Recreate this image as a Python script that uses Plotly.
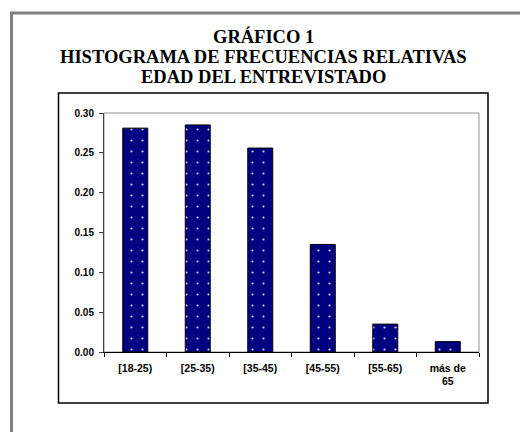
import plotly.graph_objects as go

categories = ["[18-25)", "[25-35)", "[35-45)", "[45-55)", "[55-65)", "más de<br>65"]
values = [0.281, 0.285, 0.256, 0.135, 0.035, 0.013]
y_ticks = [0.00, 0.05, 0.10, 0.15, 0.20, 0.25, 0.30]
title_lines = ["GRÁFICO 1", "HISTOGRAMA DE FRECUENCIAS RELATIVAS", "EDAD DEL ENTREVISTADO"]

OFF = 8  # page body margin
W, H = 528 - 2 * OFF, 440 - 2 * OFF
# plot area in screen pixels
SL, SR, ST, SB = 104, 479, 113, 352
L, R, T, B = SL - OFF, SR - OFF, ST - OFF, SB - OFF


def px_x(p):
    return (p - OFF - L) / (R - L)


def px_y(p):
    return (B - (p - OFF)) / (B - T)


fig = go.Figure()
fig.add_trace(go.Bar(
    x=categories,
    y=values,
    marker=dict(
        color="#000080",
        line=dict(color="black", width=1),
        pattern=dict(shape=".", fgcolor="#d8d8ff", bgcolor="#000080",
                     size=11, solidity=0.03, fillmode="replace"),
    ),
))

fig.update_layout(
    width=W, height=H,
    margin=dict(l=L, r=W - R, t=T, b=H - B, pad=0),
    paper_bgcolor="white",
    plot_bgcolor="white",
    bargap=0.6,
    showlegend=False,
    font=dict(family="Liberation Sans, Arial, sans-serif", color="black"),
)

title_y = [36, 56.5, 77]
for line, sy in zip(title_lines, title_y):
    fig.add_annotation(
        text=line, showarrow=False,
        xref="paper", yref="paper", x=px_x(263), y=px_y(sy),
        xanchor="center", yanchor="middle",
        font=dict(family="Liberation Serif, Times New Roman, serif", size=18.5,
                  color="black", weight="bold"),
    )

fig.update_yaxes(
    range=[0, 0.30],
    tickvals=y_ticks,
    tickformat=".2f",
    showgrid=False,
    zeroline=False,
    showline=True, linecolor="#404040", linewidth=1,
    ticks="outside", ticklen=4, tickcolor="#404040",
    tickfont=dict(size=10, weight="bold", family="Liberation Sans, Arial, sans-serif"),
    ticklabelstandoff=3,
)
fig.update_xaxes(
    showgrid=False,
    zeroline=False,
    showline=True, linecolor="black", linewidth=1,
    ticks="outside", ticklen=4, tickcolor="black",
    tickson="boundaries",
    tickfont=dict(size=10.5, weight="bold", family="Liberation Sans, Arial, sans-serif"),
    ticklabelstandoff=6,
)

# plot-area border (gray)
fig.add_shape(type="rect", xref="paper", yref="paper", x0=0, x1=1, y0=0, y1=1,
              line=dict(color="#909090", width=1), layer="below")
# inner chart box (black)
fig.add_shape(type="rect", xref="paper", yref="paper",
              x0=px_x(58.5), x1=px_x(488), y0=px_y(403), y1=px_y(93),
              line=dict(color="black", width=1.5))
# outer frame (gray)
fig.add_shape(type="rect", xref="paper", yref="paper",
              x0=px_x(11.5), x1=px_x(560), y0=px_y(480), y1=px_y(13),
              line=dict(color="#808080", width=3))

fig.write_html("out.html")
